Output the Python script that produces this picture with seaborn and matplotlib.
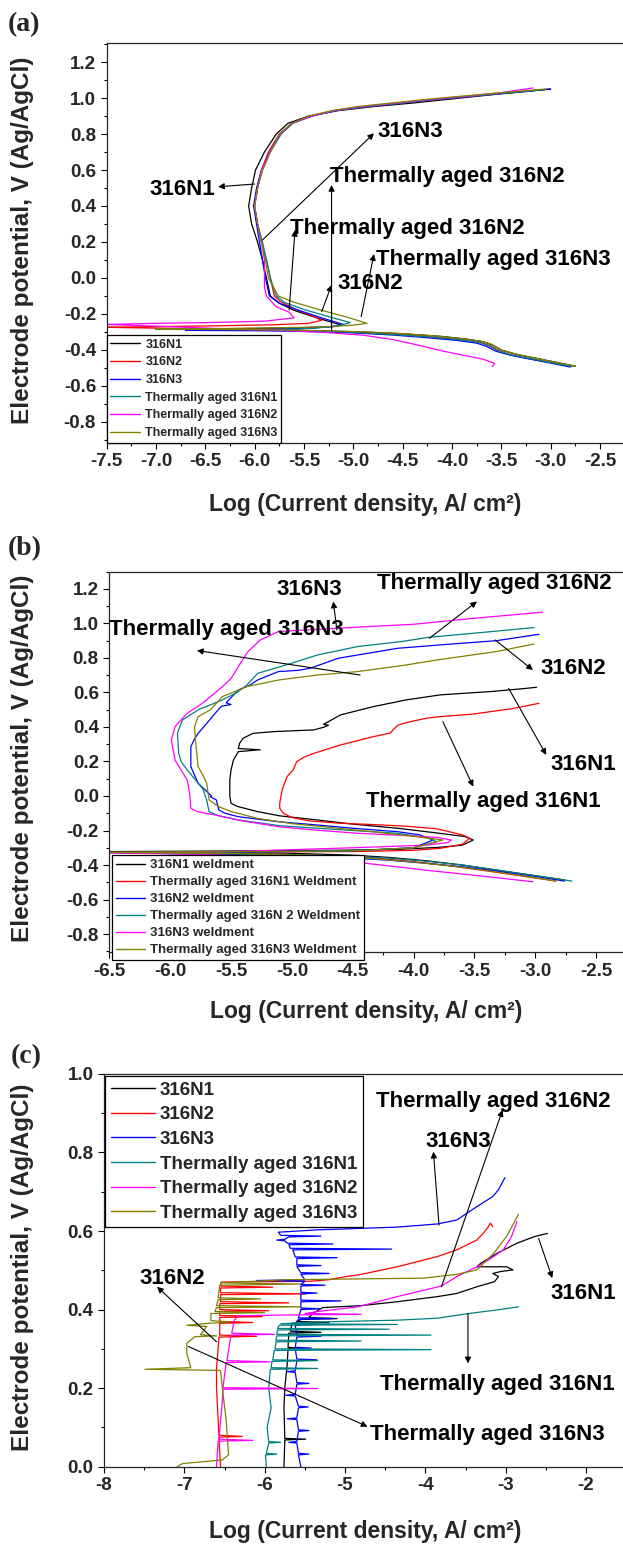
import numpy as np
import pandas as pd
import matplotlib
matplotlib.use("Agg")
import matplotlib.pyplot as plt
import seaborn as sns
from matplotlib.ticker import MultipleLocator, FormatStrFormatter
from matplotlib.lines import Line2D

# ---------------- shared ----------------
COLORS = ["#000000", "#FF0000", "#0000FF", "#008080", "#FF00FF", "#808000"]
LABELS_A = ["316N1", "316N2", "316N3", "Thermally aged 316N1",
            "Thermally aged 316N2", "Thermally aged 316N3"]
LABELS_B = ["316N1 weldment", "Thermally aged 316N1 Weldment", "316N2 weldment",
            "Thermally aged 316N 2 Weldment", "316N3 weldment",
            "Thermally aged 316N3 Weldment"]
LABELS_C = LABELS_A

# ---------------- panel (a): log i , E ----------------
a_n1_x = [-2.75, -2.95, -3.15, -3.35, -3.5, -3.6, -3.68, -3.85, -4.1, -4.5,
          -4.9, -5.4, -6.0, -6.5, -7.0, -6.5, -6.0, -5.5, -5.2, -5.12,
          -5.35, -5.6, -5.75, -5.84, -5.88, -5.92, -5.97, -6.03, -6.06, -6.03,
          -5.99, -5.9, -5.78, -5.66, -5.45, -5.15, -4.8, -4.4, -4.0, -3.6,
          -3.25, -3.0]
a_n1_y = [-0.49, -0.468, -0.446, -0.424, -0.40, -0.37, -0.355, -0.34, -0.325, -0.31,
          -0.30, -0.293, -0.289, -0.287, -0.285, -0.283, -0.28, -0.276, -0.27, -0.262,
          -0.225, -0.18, -0.14, -0.10, 0.0, 0.1, 0.2, 0.3, 0.4, 0.5,
          0.6, 0.7, 0.8, 0.86, 0.9, 0.93, 0.952, 0.972, 0.995, 1.018,
          1.036, 1.05]
a_n2_x = [-2.8, -3.0, -3.2, -3.4, -3.52, -3.62, -3.72, -3.9, -4.2, -4.6,
          -5.0, -5.5, -6.0, -6.6, -7.2, -7.5, -7.0, -6.4, -5.8, -5.45,
          -5.32, -5.42, -5.6, -5.74, -5.8, -5.84, -5.88, -5.93, -5.97, -6.0,
          -5.97, -5.93, -5.86, -5.75, -5.62, -5.42, -5.18, -4.9, -4.55, -4.2,
          -3.8, -3.4, -3.05]
a_n2_y = [-0.49, -0.47, -0.45, -0.428, -0.405, -0.375, -0.357, -0.343, -0.328, -0.313,
          -0.302, -0.293, -0.287, -0.282, -0.277, -0.274, -0.27, -0.266, -0.26, -0.252,
          -0.235, -0.21, -0.17, -0.13, -0.1, 0.0, 0.1, 0.2, 0.3, 0.4,
          0.5, 0.6, 0.7, 0.8, 0.86, 0.9, 0.93, 0.95, 0.97, 0.99,
          1.01, 1.03, 1.048]
a_n3_x = [-2.8, -3.0, -3.2, -3.4, -3.55, -3.65, -3.75, -3.95, -4.25, -4.6,
          -5.0, -5.5, -6.0, -6.4, -6.7, -6.3, -5.9, -5.5, -5.2, -5.1,
          -5.3, -5.55, -5.75, -5.85, -5.89, -5.92, -5.95, -5.98, -6.01, -5.98,
          -5.93, -5.85, -5.74, -5.62, -5.42, -5.18, -4.9, -4.55, -4.2, -3.8,
          -3.4, -3.0]
a_n3_y = [-0.495, -0.473, -0.452, -0.43, -0.408, -0.38, -0.362, -0.347, -0.332, -0.317,
          -0.305, -0.297, -0.293, -0.292, -0.291, -0.289, -0.286, -0.28, -0.27, -0.258,
          -0.225, -0.18, -0.14, -0.1, 0.0, 0.1, 0.2, 0.3, 0.4, 0.5,
          0.6, 0.7, 0.8, 0.86, 0.9, 0.93, 0.95, 0.97, 0.99, 1.01,
          1.03, 1.05]
a_tn1_x = [-2.78, -3.0, -3.2, -3.4, -3.53, -3.63, -3.72, -3.9, -4.2, -4.6,
           -5.0, -5.4, -5.75, -5.4, -5.15, -5.03, -5.25, -5.5, -5.7, -5.78,
           -5.84, -5.88, -5.92, -5.97, -6.0, -5.97, -5.92, -5.84, -5.73, -5.61,
           -5.42, -5.18, -4.9, -4.55, -4.2, -3.8, -3.4, -3.05]
a_tn1_y = [-0.492, -0.47, -0.449, -0.427, -0.405, -0.376, -0.358, -0.344, -0.329, -0.314,
           -0.302, -0.294, -0.287, -0.28, -0.265, -0.248, -0.215, -0.175, -0.135, -0.1,
           0.0, 0.1, 0.2, 0.3, 0.4, 0.5, 0.6, 0.7, 0.8, 0.86,
           0.9, 0.93, 0.95, 0.97, 0.99, 1.01, 1.03, 1.048]
a_tn2_x = [-3.59, -3.57, -3.68, -3.88, -4.1, -4.35, -4.6, -4.9, -5.3, -5.8,
           -6.4, -7.0, -7.5, -7.0, -6.4, -5.9, -5.6, -5.65, -5.78, -5.88,
           -5.9, -5.9, -5.9, -5.93, -5.97, -6.0, -5.97, -5.93, -5.85, -5.74,
           -5.62, -5.42, -5.2, -4.95, -4.6, -4.25, -3.85, -3.5, -3.18]
a_tn2_y = [-0.493, -0.475, -0.452, -0.43, -0.405, -0.372, -0.342, -0.318, -0.302, -0.29,
           -0.28, -0.268, -0.258, -0.252, -0.247, -0.24, -0.222, -0.19, -0.16, -0.1,
           -0.05, 0.0, 0.1, 0.2, 0.3, 0.4, 0.5, 0.6, 0.7, 0.8,
           0.86, 0.9, 0.93, 0.95, 0.97, 0.99, 1.01, 1.03, 1.056]
a_tn3_x = [-2.75, -2.95, -3.15, -3.35, -3.5, -3.6, -3.7, -3.88, -4.15, -4.5,
           -4.9, -5.4, -6.0, -6.5, -7.0, -6.5, -6.0, -5.3, -5.0, -4.86,
           -5.05, -5.35, -5.6, -5.76, -5.86, -5.89, -5.93, -5.97, -6.0, -5.97,
           -5.92, -5.84, -5.75, -5.62, -5.45, -5.22, -4.95, -4.6, -4.25, -3.85,
           -3.45, -3.05]
a_tn3_y = [-0.49, -0.468, -0.446, -0.424, -0.4, -0.368, -0.352, -0.338, -0.323, -0.309,
           -0.299, -0.292, -0.288, -0.286, -0.284, -0.282, -0.279, -0.272, -0.262, -0.252,
           -0.22, -0.175, -0.135, -0.1, 0.0, 0.1, 0.2, 0.3, 0.4, 0.5,
           0.6, 0.7, 0.8, 0.86, 0.9, 0.93, 0.953, 0.973, 0.993, 1.013,
           1.032, 1.05]

# ---------------- panel (b) ----------------
b_1_x = [-2.76, -3.0, -3.3, -3.6, -3.9, -4.2, -4.5, -5.0, -5.6, -6.5,
         -5.6, -4.6, -4.13, -3.8, -3.6, -3.51, -3.58, -3.8, -4.13, -4.5,
         -4.79, -5.1, -5.28, -5.45, -5.5, -5.51, -5.51, -5.5, -5.48, -5.44,
         -5.26, -5.44, -5.43, -5.4, -5.32, -5.15, -4.82, -4.74, -4.70, -4.74,
         -4.60, -4.33, -4.06, -3.78, -3.37, -3.1, -2.99]
b_1_y = [-0.487, -0.462, -0.432, -0.40, -0.375, -0.356, -0.343, -0.332, -0.326, -0.322,
         -0.319, -0.314, -0.309, -0.298, -0.285, -0.255, -0.235, -0.215, -0.187, -0.163,
         -0.139, -0.115, -0.091, -0.06, -0.042, 0.0, 0.093, 0.15, 0.209, 0.257,
         0.268, 0.275, 0.305, 0.335, 0.363, 0.373, 0.383, 0.398, 0.41, 0.415,
         0.47, 0.518, 0.557, 0.586, 0.605, 0.622, 0.63]
b_2_x = [-2.83, -3.1, -3.4, -3.7, -4.0, -4.3, -4.6, -5.2, -6.5, -5.5,
         -4.5, -4.0, -3.78, -3.6, -3.54, -3.6, -3.81, -4.06, -4.35, -4.6,
         -4.85, -5.0, -5.07, -5.10, -5.10, -5.08, -5.04, -4.99, -4.96, -4.90,
         -4.82, -4.6, -4.33, -4.19, -4.17, -4.13, -4.06, -3.9, -3.78, -3.51,
         -3.2, -2.97]
b_2_y = [-0.493, -0.465, -0.434, -0.405, -0.38, -0.36, -0.348, -0.336, -0.327, -0.324,
         -0.322, -0.315, -0.303, -0.28, -0.245, -0.225, -0.19, -0.175, -0.165, -0.158,
         -0.145, -0.125, -0.10, -0.071, -0.042, 0.035, 0.112, 0.151, 0.199, 0.225,
         0.247, 0.296, 0.344, 0.365, 0.383, 0.41, 0.425, 0.45, 0.46, 0.475,
         0.505, 0.537]
b_3_x = [-2.76, -3.0, -3.3, -3.6, -3.9, -4.2, -4.6, -5.2, -6.5, -5.5,
         -4.5, -4.0, -3.84, -3.95, -4.13, -4.5, -4.79, -5.1, -5.44, -5.55,
         -5.60, -5.62, -5.67, -5.66, -5.72, -5.77, -5.83, -5.83, -5.80, -5.77,
         -5.70, -5.63, -5.58, -5.50, -5.54, -5.44, -5.35, -5.28, -5.11, -4.95,
         -4.85, -4.62, -4.13, -3.7, -3.32, -2.97]
b_3_y = [-0.493, -0.466, -0.437, -0.41, -0.39, -0.372, -0.357, -0.343, -0.328, -0.325,
         -0.318, -0.3, -0.255, -0.225, -0.207, -0.187, -0.168, -0.15, -0.12, -0.1,
         -0.081, -0.023, -0.004, 0.0, 0.04, 0.073, 0.17, 0.286, 0.33, 0.363,
         0.42, 0.479, 0.52, 0.53, 0.54, 0.614, 0.64, 0.673, 0.721, 0.728,
         0.74, 0.798, 0.856, 0.88, 0.90, 0.937]
b_4_x = [-2.70, -3.0, -3.3, -3.6, -3.9, -4.2, -4.6, -5.2, -6.5, -5.5,
         -4.5, -4.0, -3.81, -3.87, -4.13, -4.5, -4.79, -5.1, -5.44, -5.6,
         -5.68, -5.70, -5.73, -5.80, -5.86, -5.91, -5.93, -5.94, -5.90, -5.77,
         -5.57, -5.45, -5.37, -5.28, -5.05, -4.79, -4.46, -4.1, -3.87, -3.4,
         -3.01]
b_4_y = [-0.493, -0.462, -0.43, -0.40, -0.378, -0.36, -0.347, -0.336, -0.327, -0.324,
         -0.317, -0.3, -0.265, -0.245, -0.216, -0.2, -0.187, -0.172, -0.139, -0.115,
         -0.091, -0.023, 0.04, 0.1, 0.151, 0.2, 0.247, 0.363, 0.44, 0.499,
         0.557, 0.6, 0.643, 0.711, 0.759, 0.817, 0.866, 0.895, 0.92, 0.95,
         0.976]
b_5_x = [-3.02, -3.3, -3.6, -3.9, -4.2, -4.5, -5.0, -5.5, -6.0, -6.5,
         -5.5, -4.5, -3.9, -3.72, -3.69, -3.81, -4.1, -4.46, -4.8, -5.11,
         -5.4, -5.63, -5.78, -5.83, -5.84, -5.86, -5.91, -5.96, -5.99, -5.96,
         -5.86, -5.75, -5.70, -5.57, -5.50, -5.44, -5.36, -5.26, -5.11, -4.8,
         -4.525, -4.0, -3.5, -2.94]
b_5_y = [-0.497, -0.475, -0.452, -0.43, -0.405, -0.382, -0.36, -0.345, -0.335, -0.33,
         -0.322, -0.3, -0.285, -0.27, -0.255, -0.24, -0.228, -0.216, -0.198, -0.178,
         -0.145, -0.11, -0.09, -0.071, 0.015, 0.093, 0.15, 0.209, 0.325, 0.402,
         0.479, 0.53, 0.557, 0.634, 0.68, 0.75, 0.837, 0.904, 0.953, 0.965,
         0.976, 0.995, 1.03, 1.065]
b_6_x = [-2.83, -3.1, -3.4, -3.7, -4.0, -4.3, -4.6, -5.2, -6.5, -5.5,
         -4.5, -4.0, -3.76, -3.97, -4.3, -4.62, -5.0, -5.28, -5.5, -5.60,
         -5.68, -5.70, -5.73, -5.77, -5.78, -5.79, -5.80, -5.77, -5.67, -5.57,
         -5.37, -5.11, -4.79, -4.46, -4.1, -3.81, -3.32, -3.01]
b_6_y = [-0.493, -0.463, -0.432, -0.405, -0.383, -0.365, -0.35, -0.337, -0.326, -0.323,
         -0.318, -0.3, -0.255, -0.236, -0.21, -0.187, -0.16, -0.13, -0.09, -0.062,
         -0.023, 0.073, 0.12, 0.17, 0.24, 0.305, 0.402, 0.46, 0.499, 0.576,
         0.634, 0.672, 0.701, 0.721, 0.755, 0.788, 0.837, 0.881]

# ---------------- panel (c) ----------------
c_n1_x = [-5.76, -5.75, -5.49, -5.75, -5.76, -5.75, -5.72, -5.71, -5.60, -5.71,
          -5.70, -5.30, -5.68, -5.66, -5.20, -5.60, -5.55, -5.10, -5.45, -5.40,
          -5.28, -4.80, -4.35, -3.85, -3.61, -3.36, -3.14, -3.09, -3.16, -3.06,
          -2.91, -2.99, -3.36, -3.31, -3.11, -2.86, -2.64, -2.48]
c_n1_y = [0.0, 0.068, 0.07, 0.072, 0.15, 0.2, 0.26, 0.3, 0.302, 0.304,
          0.34, 0.342, 0.345, 0.365, 0.367, 0.37, 0.375, 0.377, 0.38, 0.39,
          0.405, 0.41, 0.42, 0.433, 0.441, 0.458, 0.471, 0.484, 0.492, 0.497,
          0.501, 0.509, 0.509, 0.518, 0.543, 0.569, 0.586, 0.594]
c_n2_x = [-6.55, -6.57, -6.28, -6.57, -6.58, -6.60, -6.60, -6.58, -6.57, -6.10,
          -6.56, -6.56, -6.15, -6.56, -6.56, -6.03, -6.56, -6.56, -5.95, -6.56,
          -6.56, -5.70, -6.55, -6.55, -5.49, -6.55, -6.55, -5.90, -6.55, -6.54,
          -5.44, -5.20, -4.99, -4.84, -4.35, -3.85, -3.61, -3.36, -3.28, -3.23,
          -3.19, -3.16]
c_n2_y = [0.0, 0.075, 0.077, 0.08, 0.12, 0.2, 0.25, 0.3, 0.33, 0.332,
          0.335, 0.365, 0.367, 0.37, 0.38, 0.382, 0.385, 0.395, 0.397, 0.40,
          0.415, 0.417, 0.42, 0.438, 0.44, 0.443, 0.455, 0.457, 0.46, 0.47,
          0.472, 0.476, 0.484, 0.488, 0.509, 0.535, 0.552, 0.577, 0.594, 0.607,
          0.62, 0.611]
c_n3_x = [-5.55,
          -5.58, -5.45, -5.58,
          -5.60, -5.70, -5.60,
          -5.58, -5.45, -5.58,
          -5.60, -5.72, -5.60,
          -5.58, -5.46, -5.58,
          -5.62, -5.74, -5.62,
          -5.60, -5.45, -5.60,
          -5.62, -5.72, -5.62,
          -5.60, -5.35, -5.60,
          -5.62, -5.42, -5.62,
          -5.60, -5.30, -5.60,
          -5.62, -5.40, -5.62,
          -5.58, -5.15, -5.58,
          -5.55, -5.30, -5.55,
          -5.55, -5.05, -5.55,
          -5.55, -5.35, -5.55,
          -5.55, -5.25, -5.55,
          -5.50, -6.10, -5.50,
          -5.55, -5.20, -5.55,
          -5.60, -5.30, -5.60,
          -5.60, -5.10, -5.62,
          -5.65, -4.42, -5.68,
          -5.70, -5.15, -5.72,
          -5.75, -5.85, -5.75,
          -5.70, -5.30, -5.80,
          -5.83, -5.34, -4.35, -3.85, -3.61, -3.36, -3.16, -3.09, -3.01]
c_n3_y = [0.0,
          0.03, 0.032, 0.034,
          0.06, 0.062, 0.064,
          0.09, 0.092, 0.094,
          0.12, 0.122, 0.124,
          0.15, 0.152, 0.154,
          0.18, 0.182, 0.184,
          0.21, 0.212, 0.214,
          0.24, 0.242, 0.244,
          0.27, 0.272, 0.274,
          0.30, 0.302, 0.304,
          0.33, 0.332, 0.334,
          0.36, 0.362, 0.364,
          0.375, 0.377, 0.379,
          0.40, 0.402, 0.404,
          0.42, 0.422, 0.424,
          0.44, 0.442, 0.444,
          0.46, 0.462, 0.464,
          0.472, 0.474, 0.476,
          0.49, 0.492, 0.494,
          0.51, 0.512, 0.514,
          0.53, 0.532, 0.534,
          0.552, 0.554, 0.556,
          0.565, 0.567, 0.569,
          0.575, 0.577, 0.579,
          0.585, 0.587, 0.589,
          0.597, 0.603, 0.61, 0.618, 0.628, 0.662, 0.688, 0.705, 0.736]
c_tn1_x = [-5.98, -5.99, -5.85, -5.98, -5.95, -5.80, -5.95, -5.97, -5.92, -5.95,
           -5.93, -5.34, -5.92, -5.91, -5.34, -5.90, -5.88, -3.93, -5.87, -5.86,
           -4.80, -5.86, -5.85, -3.93, -5.85, -5.84, -4.45, -5.84, -5.82, -4.35,
           -5.80, -5.40, -5.00, -4.35, -3.85, -3.46, -3.11, -2.84]
c_tn1_y = [0.0, 0.03, 0.032, 0.034, 0.06, 0.062, 0.064, 0.10, 0.15, 0.2,
           0.248, 0.25, 0.252, 0.268, 0.27, 0.272, 0.296, 0.298, 0.30, 0.318,
           0.32, 0.322, 0.333, 0.335, 0.337, 0.348, 0.35, 0.352, 0.36, 0.362,
           0.364, 0.368, 0.37, 0.373, 0.378, 0.39, 0.399, 0.407]
c_tn2_x = [-6.60, -6.58, -6.15, -6.57, -6.53, -6.52, -5.34, -6.52, -6.48, -5.93,
           -6.47, -6.42, -5.88, -6.41, -6.38, -6.33, -5.80, -4.80, -5.50, -5.34,
           -4.84, -4.35, -3.80, -3.60, -3.36, -3.20, -3.03, -2.93, -2.86]
c_tn2_y = [0.0, 0.065, 0.067, 0.07, 0.16, 0.197, 0.199, 0.201, 0.265, 0.267,
           0.27, 0.335, 0.337, 0.34, 0.373, 0.384, 0.386, 0.388, 0.39, 0.395,
           0.407, 0.433, 0.46, 0.485, 0.509, 0.528, 0.552, 0.585, 0.624]
c_tn3_x = [-7.09, -7.02, -6.53, -6.45, -6.48, -6.53, -6.55, -7.49, -6.92, -6.97,
           -6.97, -6.87, -6.60, -6.80, -6.72, -6.97, -6.70, -6.44, -6.67, -6.67,
           -6.00, -6.62, -6.60, -5.56, -6.60, -6.58, -6.05, -6.58, -6.56, -5.56,
           -6.55, -5.73, -4.02, -3.60, -3.36, -3.15, -2.99, -2.90, -2.84]
c_tn3_y = [0.0, 0.008, 0.017, 0.03, 0.119, 0.204, 0.245, 0.248, 0.252, 0.289,
           0.314, 0.331, 0.333, 0.336, 0.357, 0.36, 0.365, 0.368, 0.372, 0.39,
           0.392, 0.395, 0.405, 0.407, 0.41, 0.425, 0.427, 0.43, 0.462, 0.465,
           0.468, 0.476, 0.48, 0.49, 0.501, 0.543, 0.586, 0.62, 0.643]

# ---------------- annotations: text, text anchor, arrow tail, arrow head ----------------
ANN_A = [("316N1", (-7.07, 0.489), (-6.0, 0.522), (-6.37, 0.507)),
         ("316N3", (-4.76, 0.813), (-5.92, 0.211), (-4.79, 0.804)),
         ("Thermally aged 316N2", (-5.24, 0.563), (-5.22, -0.289), (-5.22, 0.517)),
         ("Thermally aged 316N2", (-5.64, 0.276), (-5.65, -0.178), (-5.59, 0.267)),
         ("Thermally aged 316N3", (-4.77, 0.10), (-4.92, -0.215), (-4.79, 0.133)),
         ("316N2", (-5.16, -0.03), (-5.32, -0.187), (-5.22, -0.039))]
ANN_B = [("316N3", (-5.13, 1.194), (-4.63, 0.962), (-4.66, 1.127)),
         ("Thermally aged 316N2", (-4.30, 1.233), (-3.87, 0.914), (-3.48, 1.127)),
         ("Thermally aged 316N3", (-6.50, 0.962), (-4.44, 0.701), (-5.78, 0.843)),
         ("316N2", (-2.96, 0.74), (-3.33, 0.904), (-3.02, 0.73)),
         ("316N1", (-2.88, 0.18), (-3.22, 0.624), (-2.91, 0.238)),
         ("Thermally aged 316N1", (-4.39, -0.033), (-3.76, 0.431), (-3.51, 0.054))]
ANN_C = [("Thermally aged 316N2", (-4.61, 0.93), (-3.80, 0.458), (-3.04, 0.908)),
         ("316N3", (-4.00, 0.828), (-3.83, 0.615), (-3.90, 0.802)),
         ("316N1", (-2.44, 0.441), (-2.59, 0.581), (-2.42, 0.48)),
         ("Thermally aged 316N1", (-4.56, 0.208), (-3.47, 0.39), (-3.47, 0.263)),
         ("Thermally aged 316N3", (-4.69, 0.081), (-6.95, 0.306), (-4.72, 0.102)),
         ("316N2", (-7.56, 0.48), (-6.60, 0.318), (-7.34, 0.458))]


def make_df(xs_list, ys_list, labels):
    frames = []
    for lab, xs, ys in zip(labels, xs_list, ys_list):
        frames.append(pd.DataFrame({"logi": xs, "E": ys, "series": lab}))
    return pd.concat(frames, ignore_index=True)


df_a = make_df([a_n1_x, a_n2_x, a_n3_x, a_tn1_x, a_tn2_x, a_tn3_x],
               [a_n1_y, a_n2_y, a_n3_y, a_tn1_y, a_tn2_y, a_tn3_y], LABELS_A)
df_b = make_df([b_1_x, b_2_x, b_3_x, b_4_x, b_5_x, b_6_x],
               [b_1_y, b_2_y, b_3_y, b_4_y, b_5_y, b_6_y], LABELS_B)
df_c = make_df([c_n1_x, c_n2_x, c_n3_x, c_tn1_x, c_tn2_x, c_tn3_x],
               [c_n1_y, c_n2_y, c_n3_y, c_tn1_y, c_tn2_y, c_tn3_y], LABELS_C)

sns.set_style("ticks")
plt.rcParams["font.family"] = ["Liberation Sans", "DejaVu Sans"]
plt.rcParams["font.weight"] = "bold"
plt.rcParams["axes.labelweight"] = "bold"
plt.rcParams["axes.unicode_minus"] = False
plt.rcParams["axes.linewidth"] = 0.9

fig = plt.figure(figsize=(6.23, 15.45), dpi=100)
ax_a = fig.add_axes([0.171, 0.7135, 0.829, 0.2587])
ax_b = fig.add_axes([0.1754, 0.3836, 0.8246, 0.2464])
ax_c = fig.add_axes([0.167, 0.0507, 0.833, 0.2542])


def draw(ax, df, labels):
    sns.lineplot(data=df, x="logi", y="E", hue="series", hue_order=labels,
                 palette=COLORS, sort=False, estimator=None, legend=False,
                 linewidth=0.9, ax=ax)


def style(ax, xlim, ylim, xmaj, xmin, ymaj, ymin, xfmt, yfmt):
    ax.set_xlim(*xlim)
    ax.set_ylim(*ylim)
    ax.xaxis.set_major_locator(MultipleLocator(xmaj))
    ax.xaxis.set_minor_locator(MultipleLocator(xmin))
    ax.yaxis.set_major_locator(MultipleLocator(ymaj))
    ax.yaxis.set_minor_locator(MultipleLocator(ymin))
    ax.xaxis.set_major_formatter(FormatStrFormatter(xfmt))
    ax.yaxis.set_major_formatter(FormatStrFormatter(yfmt))
    ax.spines["right"].set_visible(False)
    ax.tick_params(which="both", direction="out", top=False, right=False,
                   width=0.8, color="black", labelsize=13.5)
    ax.tick_params(which="major", length=4.5, pad=3)
    ax.tick_params(which="minor", length=2.5)
    for lab in ax.get_xticklabels() + ax.get_yticklabels():
        lab.set_fontweight("bold")
    ax.set_xlabel("Log (Current density, A/ cm²)", fontsize=16.5, fontweight="bold")
    ax.set_ylabel("Electrode potential, V (Ag/AgCl)", fontsize=17.5, fontweight="bold")


def annotate(ax, anns):
    for text, tpos, tail, head in anns:
        ax.annotate("", xy=head, xytext=tail,
                    arrowprops=dict(arrowstyle="-|>", color="black", lw=0.8,
                                    mutation_scale=9, shrinkA=0, shrinkB=0))
        ax.text(tpos[0], tpos[1], text, fontsize=16, fontweight="bold",
                ha="left", va="center", color="black")


def legend(ax, labels, fs, loc, anchor, hl, ls, bp, htp, lw):
    handles = [Line2D([0], [0], color=c, lw=lw) for c in COLORS]
    leg = ax.legend(handles, labels, loc=loc, bbox_to_anchor=anchor,
                    fontsize=fs, handlelength=hl, labelspacing=ls,
                    borderpad=bp, handletextpad=htp, borderaxespad=0,
                    frameon=True, fancybox=False, framealpha=1,
                    edgecolor="black", facecolor="white")
    leg.get_frame().set_linewidth(0.9)
    for t in leg.get_texts():
        t.set_fontweight("bold")
    leg.set_zorder(10)


# panel a
draw(ax_a, df_a, LABELS_A)
style(ax_a, (-7.5, -2.267), (-0.915, 1.306), 0.5, 0.25, 0.2, 0.1, "%.1f", "%.1f")
annotate(ax_a, ANN_A)
legend(ax_a, LABELS_A, 9, "lower left", (0.0, 0.0), 2.4, 0.45, 0.3, 0.4, 1.0)
ax_a.yaxis.set_label_coords(-0.140, 0.507)
ax_a.xaxis.set_label_coords(0.5, -0.125)

# panel b
draw(ax_b, df_b, LABELS_B)
style(ax_b, (-6.5, -2.28), (-0.906, 1.30), 0.5, 0.25, 0.2, 0.1, "%.1f", "%.1f")
annotate(ax_b, ANN_B)
legend(ax_b, LABELS_B, 9.5, "lower left", (0.006, -0.021), 2.2, 0.36, 0.3, 0.38, 1.0)
ax_b.yaxis.set_label_coords(-0.147, 0.509)
ax_b.xaxis.set_label_coords(0.5, -0.125)

# panel c
draw(ax_c, df_c, LABELS_C)
style(ax_c, (-8.0, -1.54), (0.0, 1.0), 1.0, 0.5, 0.2, 0.1, "%d", "%.1f")
annotate(ax_c, ANN_C)
legend(ax_c, LABELS_C, 13.5, "upper left", (0.002, 0.995), 2.35, 0.4, 0.3, 0.27, 1.0)
ax_c.yaxis.set_label_coords(-0.135, 0.507)
ax_c.xaxis.set_label_coords(0.504, -0.136)

for s, (px, py) in zip(["(a)", "(b)", "(c)"], [(8, 12), (8, 536), (11, 1044)]):
    fig.text(px / 623, 1 - py / 1545, s, fontsize=20, fontweight="bold",
             family="Liberation Serif", ha="left", va="top")

fig.savefig("out.png", dpi=100)
